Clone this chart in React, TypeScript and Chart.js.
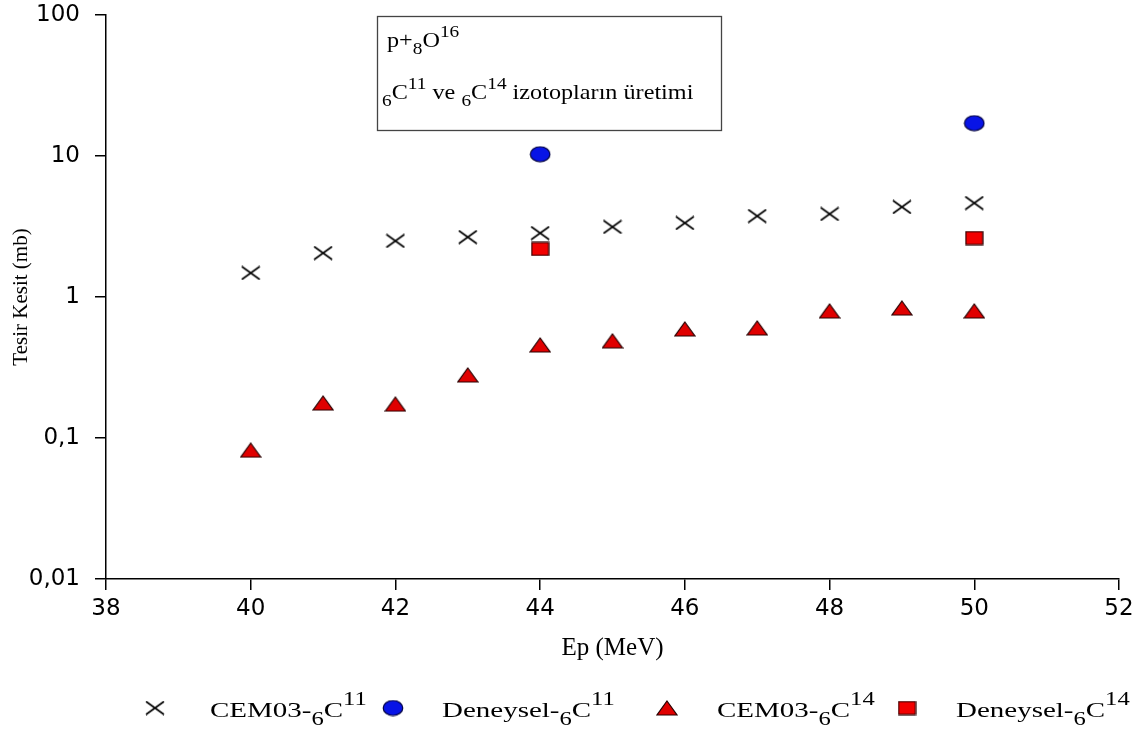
import React, { useEffect, useRef } from "react";
import { Chart, registerables } from "chart.js";

Chart.register(...registerables);

// ---- data ----
const energies = [40, 41, 42, 43, 44, 45, 46, 47, 48, 49, 50];
const cem03C11 = [1.48, 2.05, 2.5, 2.66, 2.84, 3.14, 3.35, 3.75, 3.88, 4.35, 4.64];
const cem03C14 = [0.082, 0.177, 0.174, 0.28, 0.457, 0.488, 0.593, 0.603, 0.796, 0.835, 0.796];
const deneyselEnergies = [44, 50];
const deneyselC11 = [10.3, 17.1];
const deneyselC14 = [2.19, 2.62];
const yTickValues = [0.01, 0.1, 1, 10, 100];
const yTickLabels = ["0,01", "0,1", "1", "10", "100"];
const xMin = 38;
const xMax = 52;
const xStep = 2;

type Part = [string, "n" | "sub" | "sup"];

const boxLine1: Part[] = [["p+", "n"], ["8", "sub"], ["O", "n"], ["16", "sup"]];
const boxLine2: Part[] = [
  ["6", "sub"], ["C", "n"], ["11", "sup"], [" ve ", "n"],
  ["6", "sub"], ["C", "n"], ["14", "sup"], [" izotopların üretimi", "n"],
];
const legendLabels: Part[][] = [
  [["CEM03-", "n"], ["6", "sub"], ["C", "n"], ["11", "sup"]],
  [["Deneysel-", "n"], ["6", "sub"], ["C", "n"], ["11", "sup"]],
  [["CEM03-", "n"], ["6", "sub"], ["C", "n"], ["14", "sup"]],
  [["Deneysel-", "n"], ["6", "sub"], ["C", "n"], ["14", "sup"]],
];

const SERIF = '"Liberation Serif", "Times New Roman", serif';
const SANS = '"DejaVu Sans", sans-serif';

function mk(w: number, h: number, draw: (c: CanvasRenderingContext2D) => void) {
  const cv = document.createElement("canvas");
  cv.width = w;
  cv.height = h;
  const c = cv.getContext("2d")!;
  draw(c);
  return cv;
}

function makeMarkers() {
  const cross = mk(20, 15, (c) => {
    c.strokeStyle = "#000";
    c.lineWidth = 1.6;
    c.beginPath();
    c.moveTo(1, 1);
    c.lineTo(19, 14);
    c.moveTo(19, 1);
    c.lineTo(1, 14);
    c.stroke();
  });
  const ellipse = mk(22, 17, (c) => {
    c.beginPath();
    c.ellipse(11, 8.5, 9.8, 7.5, 0, 0, Math.PI * 2);
    c.fillStyle = "#0814e6";
    c.fill();
    c.strokeStyle = "#000040";
    c.lineWidth = 1.2;
    c.stroke();
  });
  const triangle = mk(22, 16, (c) => {
    c.beginPath();
    c.moveTo(11, 1);
    c.lineTo(21, 15);
    c.lineTo(1, 15);
    c.closePath();
    c.fillStyle = "#e00000";
    c.fill();
    c.strokeStyle = "#2a0000";
    c.lineWidth = 1.2;
    c.stroke();
  });
  const square = mk(19, 15, (c) => {
    c.fillStyle = "#f20000";
    c.fillRect(1, 1, 17, 13);
    c.strokeStyle = "#2a0000";
    c.lineWidth = 1.2;
    c.strokeRect(1, 1, 17, 13);
  });
  return { cross, ellipse, triangle, square };
}

function drawRich(
  ctx: CanvasRenderingContext2D,
  x: number,
  baseline: number,
  parts: Part[],
  size: number,
  sx: number,
  small: number,
  supDy: number,
  subDy: number
) {
  ctx.save();
  ctx.translate(x, baseline);
  ctx.scale(sx, 1);
  ctx.fillStyle = "#000";
  ctx.textBaseline = "alphabetic";
  ctx.textAlign = "left";
  let cx = 0;
  for (const [t, kind] of parts) {
    const fs = kind === "n" ? size : size * small;
    ctx.font = `${fs}px ${SERIF}`;
    const dy = kind === "sup" ? -size * supDy : kind === "sub" ? size * subDy : 0;
    ctx.fillText(t, cx, dy);
    cx += ctx.measureText(t).width;
  }
  ctx.restore();
}

export default function App() {
  const ref = useRef<HTMLCanvasElement | null>(null);

  useEffect(() => {
    if (!ref.current) return;
    const m = makeMarkers();
    const legendMarkers = [m.cross, m.ellipse, m.triangle, m.square];
    const legendMarkerX = [155, 393, 667, 907];
    const legendTextX = [210, 442, 717, 956];

    const overlay = {
      id: "overlay",
      afterDraw(chart: any) {
        const ctx: CanvasRenderingContext2D = chart.ctx;
        // annotation box
        ctx.save();
        ctx.strokeStyle = "#444";
        ctx.lineWidth = 1.3;
        ctx.strokeRect(377.5, 16.5, 344, 114);
        ctx.restore();
        drawRich(ctx, 387, 47, boxLine1, 22, 1.1, 0.8, 0.45, 0.3);
        drawRich(ctx, 382, 99, boxLine2, 22, 1.1, 0.8, 0.45, 0.3);
        // legend
        legendMarkers.forEach((cv, i) => {
          ctx.drawImage(cv, legendMarkerX[i] - cv.width / 2, 708 - cv.height / 2);
          drawRich(ctx, legendTextX[i], 717, legendLabels[i], 21, 1.38, 0.85, 0.55, 0.36);
        });
      },
    };

    const toPts = (xs: number[], ys: number[]) => xs.map((x, i) => ({ x, y: ys[i] }));

    const chart = new Chart(ref.current, {
      type: "scatter",
      data: {
        datasets: [
          { label: "CEM03-6C11", data: toPts(energies, cem03C11), pointStyle: m.cross as any, showLine: false },
          { label: "Deneysel-6C11", data: toPts(deneyselEnergies, deneyselC11), pointStyle: m.ellipse as any, showLine: false },
          { label: "CEM03-6C14", data: toPts(energies, cem03C14), pointStyle: m.triangle as any, showLine: false },
          { label: "Deneysel-6C14", data: toPts(deneyselEnergies, deneyselC14), pointStyle: m.square as any, showLine: false },
        ],
      },
      options: {
        animation: false,
        responsive: false,
        maintainAspectRatio: false,
        layout: { padding: { left: 0, right: 23, top: 15, bottom: 64 } },
        plugins: { legend: { display: false }, tooltip: { enabled: false } },
        scales: {
          x: {
            type: "linear",
            min: xMin,
            max: xMax,
            ticks: { stepSize: xStep, color: "#000", font: { family: SANS, size: 23 }, padding: 5, maxRotation: 0 },
            grid: { display: true, drawOnChartArea: false, drawTicks: true, tickLength: 11, color: "#000", lineWidth: 1.5 },
            border: { display: true, color: "#000", width: 1.5 },
            title: { display: true, text: "Ep (MeV)", color: "#000", font: { family: SERIF, size: 25 }, padding: { top: 0, bottom: 2 } },
            afterFit: (s: any) => { s.height = 86; s.paddingLeft = 0; s.paddingRight = 0; },
          },
          y: {
            type: "logarithmic",
            min: yTickValues[0],
            max: yTickValues[yTickValues.length - 1],
            afterBuildTicks: (s: any) => { s.ticks = yTickValues.map((v) => ({ value: v })); },
            ticks: {
              color: "#000",
              font: { family: SANS, size: 23 },
              padding: 15,
              autoSkip: false,
              callback: (_v: any, i: number) => yTickLabels[i],
            },
            grid: { display: true, drawOnChartArea: false, drawTicks: true, tickLength: 11, color: "#000", lineWidth: 1.5 },
            border: { display: true, color: "#000", width: 1.5 },
            title: { display: true, text: "Tesir Kesit (mb)", color: "#000", font: { family: SERIF, size: 21 }, padding: { top: 9, bottom: 0 } },
            afterFit: (s: any) => { s.width = 106; s.paddingTop = 0; s.paddingBottom = 0; },
          },
        },
      },
      plugins: [overlay],
    });
    return () => chart.destroy();
  }, []);

  return (
    <div style={{ position: "fixed", left: 0, top: 0, width: 1142, height: 729, background: "#fff" }}>
      <canvas ref={ref} width={1142} height={729} style={{ display: "block" }} />
    </div>
  );
}
